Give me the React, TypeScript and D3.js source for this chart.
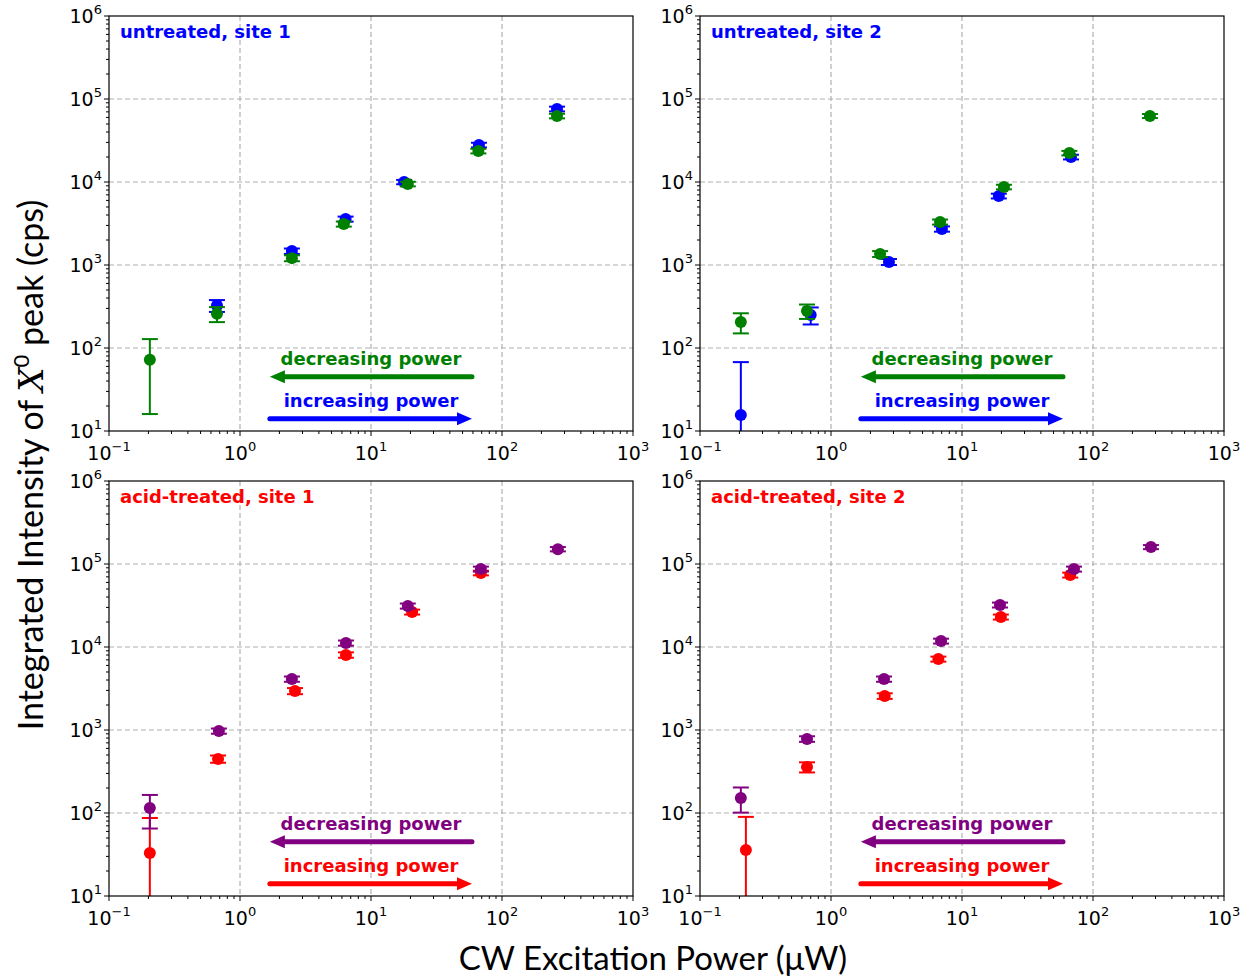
import * as d3 from 'd3';

// ---- data ----
// untreated, site 1
const s1IncX = [0.667, 2.49, 6.4, 17.9, 66.7, 263];
const s1IncY = [325, 1470, 3580, 10000, 27900, 75900];
const s1IncErr = [53, 110, 250, 600, 1800, 5000];
const s1DecX = [0.205, 0.667, 2.49, 6.2, 19.1, 66.0, 263];
const s1DecY = [72, 258, 1210, 3120, 9460, 23600, 62400];
const s1DecErr = [56, 53, 100, 220, 600, 1500, 4000];

// untreated, site 2
const s2IncX = [0.205, 0.70, 2.77, 7.03, 19.1, 67.9];
const s2IncY = [15.6, 250, 1090, 2720, 6780, 20000];
const s2IncErr = [52, 58, 90, 200, 450, 1300];
const s2DecX = [0.205, 0.656, 2.37, 6.8, 20.9, 66.0, 272];
const s2DecY = [206, 279, 1360, 3300, 8710, 22300, 62400];
const s2DecErr = [56, 55, 110, 230, 550, 1400, 3500];

// acid-treated, site 1
const a1IncX = [0.205, 0.68, 2.63, 6.44, 20.6, 69];
const a1IncY = [33, 448, 2950, 8020, 26400, 78000];
const a1IncErr = [54, 45, 250, 600, 1800, 5000];
const a1DecX = [0.205, 0.69, 2.49, 6.44, 19.1, 69, 267];
const a1DecY = [115, 972, 4110, 11170, 31200, 87000, 151000];
const a1DecErr = [50, 70, 300, 800, 2200, 6000, 9000];

// acid-treated, site 2
const a2IncX = [0.224, 0.656, 2.57, 6.6, 19.8, 67];
const a2IncY = [35.8, 358, 2570, 7160, 23000, 73600];
const a2IncErr = [54, 50, 200, 500, 1600, 5000];
const a2DecX = [0.205, 0.656, 2.54, 6.92, 19.5, 71.6, 277];
const a2DecY = [152, 780, 4110, 11800, 32100, 87000, 160000];
const a2DecErr = [51, 60, 300, 800, 2200, 6000, 9000];

const xTickExp = [-1, 0, 1, 2, 3];
const yTickExp = [1, 2, 3, 4, 5, 6];

interface Series {
  x: number[];
  y: number[];
  err: number[];
  color: string;
}

interface PanelDef {
  title: string;
  titleColor: string;
  inc: Series;
  dec: Series;
  left: number;
  top: number;
}

const BLUE = '#0000ff';
const GREEN = '#008000';
const RED = '#ff0000';
const PURPLE = '#800080';

const W = 524;
const H = 415;

const panels: PanelDef[] = [
  { title: 'untreated, site 1', titleColor: BLUE, left: 109, top: 16,
    inc: { x: s1IncX, y: s1IncY, err: s1IncErr, color: BLUE },
    dec: { x: s1DecX, y: s1DecY, err: s1DecErr, color: GREEN } },
  { title: 'untreated, site 2', titleColor: BLUE, left: 700, top: 16,
    inc: { x: s2IncX, y: s2IncY, err: s2IncErr, color: BLUE },
    dec: { x: s2DecX, y: s2DecY, err: s2DecErr, color: GREEN } },
  { title: 'acid-treated, site 1', titleColor: RED, left: 109, top: 481,
    inc: { x: a1IncX, y: a1IncY, err: a1IncErr, color: RED },
    dec: { x: a1DecX, y: a1DecY, err: a1DecErr, color: PURPLE } },
  { title: 'acid-treated, site 2', titleColor: RED, left: 700, top: 481,
    inc: { x: a2IncX, y: a2IncY, err: a2IncErr, color: RED },
    dec: { x: a2DecX, y: a2DecY, err: a2DecErr, color: PURPLE } },
];

const tickFont = 'DejaVu Sans, sans-serif';

function minorTicks(lo: number, hi: number) {
  const out: number[] = [];
  for (let e = lo; e < hi; e++) {
    for (let m = 2; m <= 9; m++) out.push(m * Math.pow(10, e));
  }
  return out;
}

function Points({ s, x, y }: { s: Series; x: d3.ScaleLogarithmic<number, number>; y: d3.ScaleLogarithmic<number, number> }) {
  const yMin = y(10);
  return (
    <g>
      {s.x.map((xv, i) => {
        const cx = x(xv);
        const cy = y(s.y[i]);
        const lo = s.y[i] - s.err[i];
        const yLo = lo > 10 ? y(lo) : yMin;
        const yHi = y(s.y[i] + s.err[i]);
        const x0 = x(xv * 0.91);
        const x1 = x(xv * 1.09);
        return (
          <g key={i} stroke={s.color} strokeWidth={2}>
            <line x1={cx} x2={cx} y1={yLo} y2={yHi} />
            <line x1={cx - 8} x2={cx + 8} y1={yHi} y2={yHi} />
            {lo > 10 && <line x1={cx - 8} x2={cx + 8} y1={yLo} y2={yLo} />}
            <line x1={x0} x2={x1} y1={cy} y2={cy} />
            <circle cx={cx} cy={cy} r={6} fill={s.color} stroke="none" />
          </g>
        );
      })}
    </g>
  );
}

function Arrow({ x1, x2, y, color }: { x1: number; x2: number; y: number; color: string }) {
  const dir = x2 > x1 ? 1 : -1;
  const headLen = 15;
  const base = x2 - dir * headLen;
  return (
    <g>
      <line x1={x1} x2={base + dir * 2} y1={y} y2={y} stroke={color} strokeWidth={5} strokeLinecap="round" />
      <path d={`M${x2},${y} L${base},${y - 6.5} L${base},${y + 6.5} Z`} fill={color} />
    </g>
  );
}

function Panel({ p }: { p: PanelDef }) {
  const x = d3.scaleLog().domain([0.1, 1000]).range([0, W]);
  const y = d3.scaleLog().domain([10, 1e6]).range([H, 0]);
  const xMinor = minorTicks(-1, 3);
  const yMinor = minorTicks(1, 6);
  return (
    <g transform={`translate(${p.left},${p.top})`}>
      {/* grid */}
      <g stroke="#b0b0b0" strokeWidth={1.2} strokeDasharray="5,3">
        {xTickExp.slice(1, -1).map(e => (
          <line key={'gx' + e} x1={x(Math.pow(10, e))} x2={x(Math.pow(10, e))} y1={0} y2={H} />
        ))}
        {yTickExp.slice(1, -1).map(e => (
          <line key={'gy' + e} x1={0} x2={W} y1={y(Math.pow(10, e))} y2={y(Math.pow(10, e))} />
        ))}
      </g>

      <text x={11} y={22} fill={p.titleColor} fontFamily={tickFont} fontWeight="bold" fontSize={18}>
        {p.title}
      </text>

      <text x={x(10)} y={y(73.6) + 6} textAnchor="middle" fill={p.dec.color}
        fontFamily={tickFont} fontWeight="bold" fontSize={18}>decreasing power</text>
      <Arrow x1={x(59)} x2={x(1.69)} y={y(45)} color={p.dec.color} />
      <text x={x(10)} y={y(23) + 6} textAnchor="middle" fill={p.inc.color}
        fontFamily={tickFont} fontWeight="bold" fontSize={18}>increasing power</text>
      <Arrow x1={x(1.69)} x2={x(59)} y={y(14)} color={p.inc.color} />

      <Points s={p.inc} x={x} y={y} />
      <Points s={p.dec} x={x} y={y} />

      {/* ticks */}
      <g stroke="#000" strokeWidth={1}>
        {xMinor.map(v => <line key={'mx' + v} x1={x(v)} x2={x(v)} y1={H} y2={H + 3} />)}
        {yMinor.map(v => <line key={'my' + v} x1={0} x2={-3} y1={y(v)} y2={y(v)} />)}
        {xTickExp.map(e => <line key={'tx' + e} x1={x(Math.pow(10, e))} x2={x(Math.pow(10, e))} y1={H} y2={H + 5} />)}
        {yTickExp.map(e => <line key={'ty' + e} x1={0} x2={-5} y1={y(Math.pow(10, e))} y2={y(Math.pow(10, e))} />)}
      </g>
      <g fontFamily={tickFont} fill="#000">
        {xTickExp.map(e => (
          <text key={'lx' + e} x={x(Math.pow(10, e))} y={H + 29} textAnchor="middle" fontSize={19}>
            10<tspan fontSize={13} dy={-9}>{e < 0 ? '\u2212' + Math.abs(e) : e}</tspan>
          </text>
        ))}
        {yTickExp.map(e => (
          <text key={'ly' + e} x={-7} y={y(Math.pow(10, e)) + 7} textAnchor="end" fontSize={19}>
            10<tspan fontSize={13} dy={-9}>{e}</tspan>
          </text>
        ))}
      </g>

      <rect x={0} y={0} width={W} height={H} fill="none" stroke="#000" strokeWidth={1.2} />
    </g>
  );
}

export default function App() {
  return (
    <svg width={1252} height={977} style={{ position: 'absolute', left: 0, top: 0, background: '#fff' }}>
      <rect width={1252} height={977} fill="#fff" />
      {panels.map((p, i) => <Panel key={i} p={p} />)}
      <text transform="translate(43,465) rotate(-90)" textAnchor="middle" fontFamily="Lato, sans-serif"
        fontSize={34} fill="#000">
        Integrated Intensity of <tspan fontFamily="DejaVu Serif, serif" fontStyle="italic">X</tspan>
        <tspan fontSize={22} dy={-14}>0</tspan><tspan dy={14}> peak (cps)</tspan>
      </text>
      <text x={653} y={970} textAnchor="middle" fontFamily="Lato, sans-serif" fontSize={33} fill="#000">
        CW Excitation Power (μW)
      </text>
    </svg>
  );
}
